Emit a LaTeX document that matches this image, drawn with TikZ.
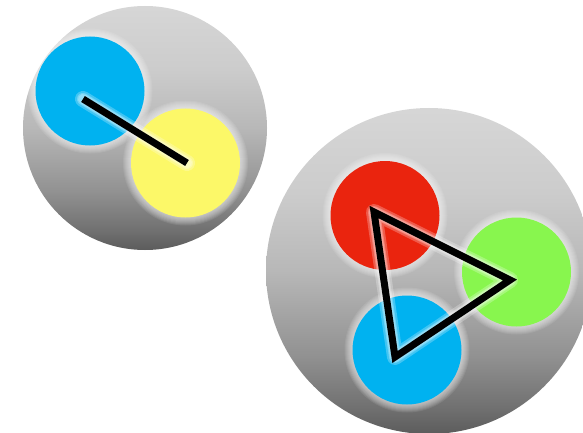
\documentclass[tikz,border=0pt]{standalone}
\definecolor{cblue}{RGB}{0,178,240}
\definecolor{cyellow}{RGB}{252,248,104}
\definecolor{cred}{RGB}{234,36,14}
\definecolor{cgreen}{RGB}{136,246,78}
\pgfdeclareverticalshading{bigball}{100bp}{color(0bp)=(black!64); color(25bp)=(black!64); color(29bp)=(black!56); color(37bp)=(black!43); color(50bp)=(black!28); color(62bp)=(black!20); color(75bp)=(black!16); color(100bp)=(black!16)}
\tikzset{
  bigball/.style={circle, inner sep=0pt, outer sep=0pt, shading=bigball, minimum size=#1},
  ball/.style={circle, inner sep=0pt, outer sep=0pt, fill=#1, minimum size=109pt},
  halo/.style={white, opacity=0.09},
  bond/.style={black, line width=7pt, line join=miter},
  bondglow/.style={white, line width=#1, opacity=0.25, line join=round, line cap=round},
}
\begin{document}
\begin{tikzpicture}[x=1pt,y=-1pt]
\useasboundingbox (0,0) rectangle (583,433);
\clip (0,0) rectangle (583,433);
% big spheres
\node[bigball=244pt] (L) at (145,128) {};
\node[bigball=326pt] (R) at (429,271) {};
% halos
\foreach \c in {(90,91),(185.5,163),(385,215.5),(516.5,272),(407,350)}{
  \foreach \k in {1,2,...,8}{
    \fill[halo] \c circle (54.5+\k);
  }
}
% colored balls
\node[ball=cblue] (b1) at (90,91) {};
\node[ball=cyellow] (y1) at (185.5,163) {};
\node[ball=cred] (r2) at (385,215.5) {};
\node[ball=cgreen] (g2) at (516.5,272) {};
\node[ball=cblue] (b2) at (407,350) {};
% bond end points
\coordinate (p1) at (83,99);
\coordinate (p2) at (187,163);
\coordinate (t1) at (374,212);
\coordinate (t2) at (510,280);
\coordinate (t3) at (395,357);
% glows
\foreach \w in {16pt,12pt,10pt}{
  \draw[bondglow=\w] (p1) -- (p2);
  \draw[bondglow=\w] (t1) -- (t2) -- (t3) -- cycle;
}
% bonds
\draw[bond] (p1) -- (p2);
\draw[bond] (t1) -- (t2) -- (t3) -- cycle;
\end{tikzpicture}
\end{document}
